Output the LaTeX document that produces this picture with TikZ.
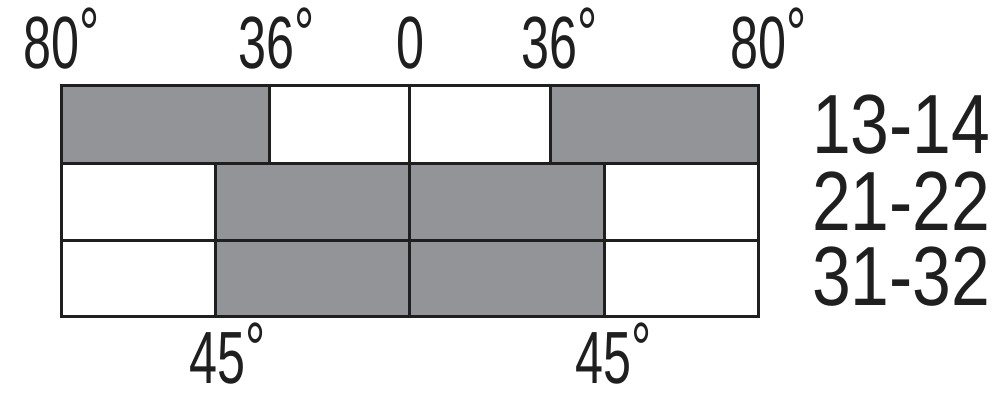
\documentclass[tikz,border=0pt]{standalone}
\usepackage{fontspec}
\setmainfont{Liberation Sans}
\begin{document}
\begin{tikzpicture}[x=1pt,y=-1pt,
  cell/.style={draw=black!88, line width=3.2pt, inner sep=0pt, anchor=north west},
  shaded/.style={cell, fill=gray!82!blue!70!white},
  blank/.style={cell, fill=white},
  toplbl/.style={inner sep=0pt, anchor=base, font=\fontsize{74}{74}\selectfont, text=black!88},
  rowlbl/.style={inner sep=0pt, anchor=base west, font=\fontsize{84}{84}\selectfont, text=black!88}]
\useasboundingbox (0,0) rectangle (1000,402);
\definecolor{gcell}{RGB}{147,148,152}
\tikzset{shaded/.style={cell, fill=gcell}}
% row 1
\node[shaded, minimum width=208pt, minimum height=78pt] (a1) at (60,84) {};
\node[blank, minimum width=140pt, minimum height=78pt] (a2) at (268,84) {};
\node[blank, minimum width=141pt, minimum height=78pt] (a3) at (408,84) {};
\node[shaded, minimum width=208pt, minimum height=78pt] (a4) at (549,84) {};
% row 2
\node[blank, minimum width=154pt, minimum height=77pt] (b1) at (60,162) {};
\node[shaded, minimum width=194pt, minimum height=77pt] (b2) at (214,162) {};
\node[shaded, minimum width=195pt, minimum height=77pt] (b3) at (408,162) {};
\node[blank, minimum width=154pt, minimum height=77pt] (b4) at (603,162) {};
% row 3
\node[blank, minimum width=154pt, minimum height=76pt] (c1) at (60,239) {};
\node[shaded, minimum width=194pt, minimum height=76pt] (c2) at (214,239) {};
\node[shaded, minimum width=195pt, minimum height=76pt] (c3) at (408,239) {};
\node[blank, minimum width=154pt, minimum height=76pt] (c4) at (603,239) {};
% top labels
\node[toplbl] (t1) at (62,68) {\scalebox{0.68}[1]{80\raisebox{0.12em}{°}}};
\node[toplbl] (t2) at (277,68) {\scalebox{0.68}[1]{36\raisebox{0.12em}{°}}};
\node[toplbl] (t3) at (410,68) {\scalebox{0.68}[1]{0}};
\node[toplbl] (t4) at (560,68) {\scalebox{0.68}[1]{36\raisebox{0.12em}{°}}};
\node[toplbl] (t5) at (769,68) {\scalebox{0.68}[1]{80\raisebox{0.12em}{°}}};
% bottom labels
\node[toplbl] (b45l) at (228,383) {\scalebox{0.68}[1]{45\raisebox{0.12em}{°}}};
\node[toplbl] (b45r) at (614,383) {\scalebox{0.68}[1]{45\raisebox{0.12em}{°}}};
% row labels
\node[rowlbl] (r1) at (812,153) {\scalebox{0.83}[1]{13-14}};
\node[rowlbl] (r2) at (812,230) {\scalebox{0.83}[1]{21-22}};
\node[rowlbl] (r3) at (812,305) {\scalebox{0.83}[1]{31-32}};
\end{tikzpicture}
\end{document}
